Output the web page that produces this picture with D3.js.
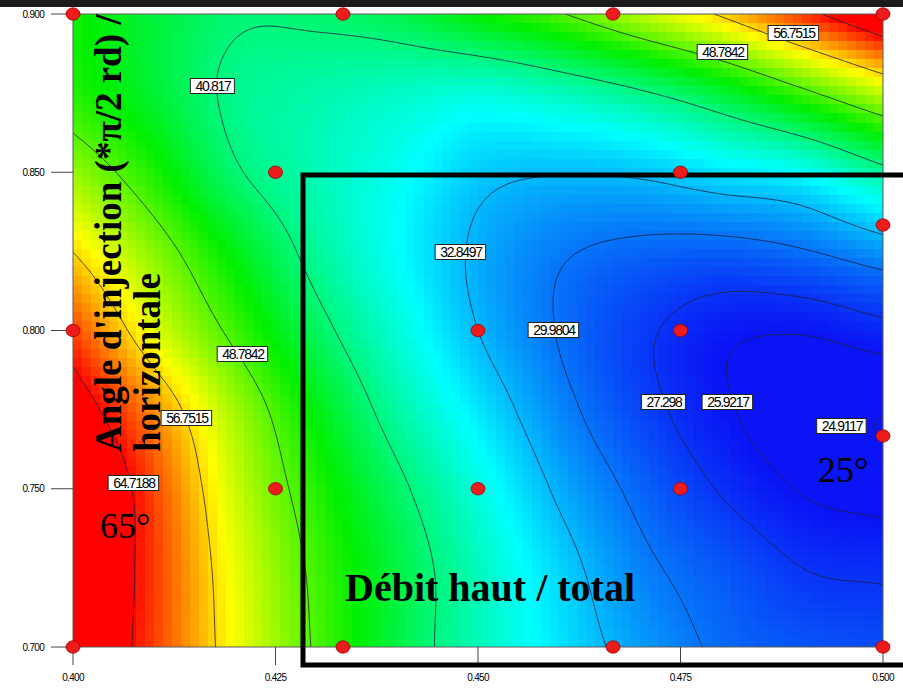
<!DOCTYPE html>
<html><head><meta charset="utf-8">
<script src="https://cdn.jsdelivr.net/npm/d3@7"></script>
<style>body{margin:0;background:#fff;} svg{display:block}</style>
</head><body><svg id="c" width="903" height="688"></svg>
<script>
// ---- data ----
const xValues = [0.40, 0.41, 0.42, 0.43, 0.44, 0.45, 0.46, 0.47, 0.48, 0.49, 0.50];
const yValues = [0.700, 0.725, 0.750, 0.775, 0.800, 0.825, 0.850, 0.875, 0.900];
// response estimated at each (x, y) grid node; rows follow yValues
const response = [
  [70.4, 62.6, 55.0, 48.4, 43.0, 38.5, 34.7, 31.7, 29.6, 28.7, 28.3],
  [70.8, 62.8, 54.5, 48.0, 43.0, 38.3, 34.0, 30.6, 28.8, 27.3, 27.0],
  [71.0, 62.3, 53.3, 46.8, 41.6, 36.9, 32.4, 29.35, 27.16, 25.83, 25.4],
  [67.3, 59.5, 51.7, 44.9, 39.3, 34.8, 30.8, 28.05, 26.16, 25.2, 24.95],
  [62.35, 54.25, 47.85, 42.0, 37.3, 32.85, 29.85, 27.7, 26.3, 26.05, 26.75],
  [56.7, 50.6, 44.8, 39.7, 35.9, 32.4, 30.3, 29.4, 29.1, 29.8, 31.4],
  [51.3, 46.5, 41.2, 38.6, 36.3, 33.7, 33.0, 33.3, 34.7, 36.0, 39.8],
  [46.8, 43.6, 40.2, 39.0, 38.0, 37.2, 38.4, 40.4, 43.5, 47.9, 53.0],
  [46.0, 43.3, 41.2, 41.4, 42.6, 45.6, 48.5, 52.7, 57.2, 63.2, 69.5]
];
const contourLevels = [24.9117, 25.9217, 27.298, 29.9804, 32.8497, 40.817, 48.7842, 56.7515, 64.7188];
const labelTexts = ["40.817", "48.7842", "56.7515", "32.8497", "29.9804", "27.298", "25.9217", "24.9117", "48.7842", "56.7515", "64.7188"];
const labelX = [0.41728, 0.48025, 0.48901, 0.44790, 0.45938, 0.47296, 0.48086, 0.49494, 0.42099, 0.41407, 0.40753];
const labelY = [0.87725, 0.88799, 0.89400, 0.82480, 0.80016, 0.77741, 0.77741, 0.76983, 0.79258, 0.77235, 0.75182];
const designX = [0.400, 0.43333, 0.46667, 0.500, 0.425, 0.475, 0.500, 0.400, 0.450, 0.475, 0.500, 0.425, 0.450, 0.475, 0.400, 0.43333, 0.46667, 0.500];
const designY = [0.900, 0.900, 0.900, 0.900, 0.850, 0.850, 0.83333, 0.800, 0.800, 0.800, 0.76667, 0.750, 0.750, 0.750, 0.700, 0.700, 0.700, 0.700];
const xTicks = [0.400, 0.425, 0.450, 0.475, 0.500];
const xTickLabels = ["0.400", "0.425", "0.450", "0.475", "0.500"];
const yTicks = [0.700, 0.750, 0.800, 0.850, 0.900];
const yTickLabels = ["0.700", "0.750", "0.800", "0.850", "0.900"];
const colorStops = [26, 35.75, 45.5, 55.25, 65];
const colorNames = ["#0a14f5", "#00ffff", "#00f000", "#ffff00", "#ff0000"];

// ---- drawing ----
const svg = d3.select("#c");
const X0 = 73, X1 = 883, Y0 = 14, Y1 = 647;
const xs = d3.scaleLinear().domain([0.4, 0.5]).range([X0, X1]);
const ys = d3.scaleLinear().domain([0.7, 0.9]).range([Y1, Y0]);
const color = d3.scaleLinear().domain(colorStops).range(colorNames).clamp(true);

function cub(p0, p1, p2, p3, t) {
  return p1 + 0.5 * t * (p2 - p0 + t * (2 * p0 - 5 * p1 + 4 * p2 - p3 + t * (3 * (p1 - p2) + p3 - p0)));
}
const nR = yValues.length, nC = xValues.length;
function node(r, c) {
  if (c < 0) return 2 * node(r, 0) - node(r, 1);
  if (c > nC - 1) return 2 * node(r, nC - 1) - node(r, nC - 2);
  if (r < 0) return 2 * node(0, c) - node(1, c);
  if (r > nR - 1) return 2 * node(nR - 1, c) - node(nR - 2, c);
  return response[r][c];
}
const xi = d3.scaleLinear().domain(d3.extent(xValues)).range([0, nC - 1]);
const yi = d3.scaleLinear().domain(d3.extent(yValues)).range([0, nR - 1]);
function field(xv, yv) {
  const fx = xi(xv), fy = yi(yv);
  const c = Math.min(nC - 2, Math.max(0, Math.floor(fx))), r = Math.min(nR - 2, Math.max(0, Math.floor(fy)));
  const tx = fx - c, ty = fy - r;
  const rows = [];
  for (let k = -1; k <= 2; k++) {
    rows.push(cub(node(r + k, c - 1), node(r + k, c), node(r + k, c + 1), node(r + k, c + 2), tx));
  }
  return cub(rows[0], rows[1], rows[2], rows[3], ty);
}

svg.append("defs").append("clipPath").attr("id", "plot")
  .append("rect").attr("x", X0).attr("y", Y0).attr("width", X1 - X0).attr("height", Y1 - Y0);

// heat cells
const cellsX = 90, cellsY = 70;
const cells = [];
for (let j = 0; j < cellsY; j++) for (let i = 0; i < cellsX; i++) {
  const xa = 0.4 + 0.1 * i / cellsX, xb = 0.4 + 0.1 * (i + 1) / cellsX;
  const yb = 0.9 - 0.2 * j / cellsY, ya = 0.9 - 0.2 * (j + 1) / cellsY;
  cells.push({xa, xb, ya, yb, v: field((xa + xb) / 2, (ya + yb) / 2)});
}
svg.append("g").attr("clip-path", "url(#plot)").selectAll("rect").data(cells).join("rect")
  .attr("x", d => xs(d.xa)).attr("y", d => ys(d.yb))
  .attr("width", d => xs(d.xb) - xs(d.xa) + 0.6).attr("height", d => ys(d.ya) - ys(d.yb) + 0.6)
  .attr("fill", d => color(d.v)).attr("shape-rendering", "crispEdges");

// contours
const cw = 163, ch = 128;
const vals = new Array(cw * ch);
for (let r = 0; r < ch; r++) for (let c = 0; c < cw; c++) {
  vals[r * cw + c] = field(0.4 + 0.1 * c / (cw - 1), 0.9 - 0.2 * r / (ch - 1));
}
const contours = d3.contours().size([cw, ch]).thresholds(contourLevels)(vals);
const proj = d3.geoTransform({
  point: function (c, r) {
    this.stream.point(xs(0.4 + 0.1 * (c - 0.5) / (cw - 1)), ys(0.9 - 0.2 * (r - 0.5) / (ch - 1)));
  }
});
const path = d3.geoPath(proj);
svg.append("g").attr("clip-path", "url(#plot)").selectAll("path").data(contours).join("path")
  .attr("d", path).attr("fill", "none").attr("stroke", "#1e1e3a").attr("stroke-width", 0.9).attr("stroke-opacity", 0.85);

// frame
svg.append("rect").attr("x", X0).attr("y", Y0).attr("width", X1 - X0).attr("height", Y1 - Y0)
  .attr("fill", "none").attr("stroke", "#5a5a5a").attr("stroke-width", 1);

// ticks
const tickFont = "'Liberation Sans', Arial, sans-serif";
const gy = svg.append("g");
gy.selectAll("line").data(yTicks).join("line")
  .attr("x1", X0 - 22).attr("x2", X0).attr("y1", d => ys(d)).attr("y2", d => ys(d))
  .attr("stroke", "#444").attr("stroke-width", 1);
gy.selectAll("text").data(yTicks).join("text")
  .attr("x", X0 - 29).attr("y", d => ys(d) + 3.5).attr("text-anchor", "end")
  .attr("font-family", tickFont).attr("font-size", 10).attr("letter-spacing", -0.7)
  .text((d, i) => yTickLabels[i]);
const gx = svg.append("g");
gx.selectAll("line").data(xTicks).join("line")
  .attr("x1", d => xs(d)).attr("x2", d => xs(d)).attr("y1", Y1).attr("y2", Y1 + 18)
  .attr("stroke", "#444").attr("stroke-width", 1);
gx.selectAll("text").data(xTicks).join("text")
  .attr("x", d => xs(d)).attr("y", 681).attr("text-anchor", "middle")
  .attr("font-family", tickFont).attr("font-size", 10).attr("letter-spacing", -0.7)
  .text((d, i) => xTickLabels[i]);

// highlighted region
svg.append("rect").attr("x", 303).attr("y", 175).attr("width", 640).attr("height", 490)
  .attr("fill", "none").attr("stroke", "#000").attr("stroke-width", 5);

// design points
svg.append("g").selectAll("ellipse").data(designX.map((d, i) => [d, designY[i]])).join("ellipse")
  .attr("cx", d => xs(d[0])).attr("cy", d => ys(d[1])).attr("rx", 7).attr("ry", 6.2)
  .attr("fill", "#ec1c1c").attr("stroke", "#a00000").attr("stroke-width", 0.8);

// contour labels
const lg = svg.append("g").selectAll("g").data(labelTexts.map((t, i) => ({t, x: labelX[i], y: labelY[i]}))).join("g")
  .attr("transform", d => `translate(${xs(d.x)},${ys(d.y)})`);
lg.append("rect");
lg.append("text").attr("text-anchor", "middle").attr("y", 5)
  .attr("font-family", tickFont).attr("font-size", 14).attr("letter-spacing", -1.3)
  .text(d => d.t);
lg.each(function () {
  const g = d3.select(this);
  const w = g.select("text").node().getComputedTextLength() + 9;
  g.select("rect").attr("x", -w / 2 - 0.6).attr("y", -7.5).attr("width", w).attr("height", 15)
    .attr("fill", "#fff").attr("stroke", "#222").attr("stroke-width", 1);
});

// annotation texts
const serif = "'Liberation Serif', 'Times New Roman', serif";
const at = svg.append("g").attr("transform", "translate(0,452) rotate(-90)");
at.append("text").attr("x", 0).attr("y", 121).attr("font-family", serif).attr("font-weight", "bold")
  .attr("font-size", 37).text("Angle d'injection (*π/2 rd) /");
at.append("text").attr("x", 0).attr("y", 160).attr("font-family", serif).attr("font-weight", "bold")
  .attr("font-size", 37).text("horizontale");
svg.append("text").attr("x", 100).attr("y", 538).attr("font-family", serif).attr("font-size", 36).text("65°");
svg.append("text").attr("x", 818).attr("y", 482).attr("font-family", serif).attr("font-size", 36).text("25°");
svg.append("text").attr("x", 345).attr("y", 601).attr("font-family", serif).attr("font-weight", "bold")
  .attr("font-size", 40).text("Débit haut / total");

// top dark band
svg.append("rect").attr("x", 0).attr("y", 0).attr("width", 903).attr("height", 7).attr("fill", "#1b1b1b");
</script></body></html>
